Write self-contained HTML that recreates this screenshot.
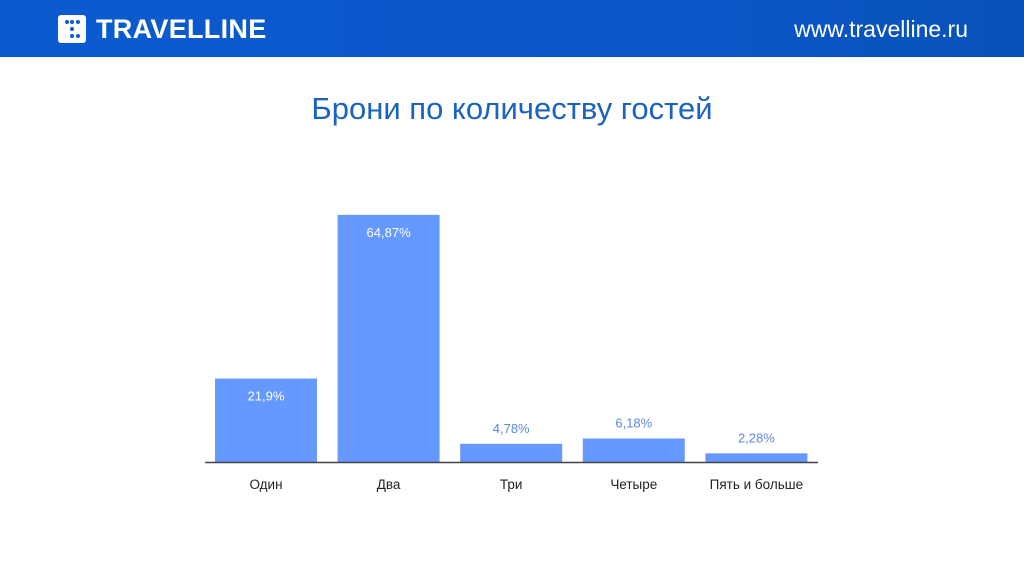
<!DOCTYPE html>
<html><head><meta charset="utf-8"><style>
body{margin:0;width:1024px;height:576px;background:#fff;overflow:hidden;font-family:"Liberation Sans",sans-serif;position:relative}
.hdr{position:absolute;left:0;top:0;width:1024px;height:57px;background:linear-gradient(90deg,#0b5bd0,#0a56c6 70%,#0752b8)}
</style></head><body>
<div class="hdr">
<div style="position:absolute;left:58px;top:15px;width:28px;height:28px;background:#fff;border-radius:3px">
<svg width="28" height="28"><g fill="#0b5bd0"><circle cx="9" cy="7" r="2"/><circle cx="14" cy="7" r="2"/><circle cx="20" cy="7" r="2"/><circle cx="14" cy="14" r="2"/><circle cx="14" cy="21" r="2"/><circle cx="20" cy="21" r="2"/></g></svg></div>
<div style="position:absolute;left:96px;top:14px;color:#fff;font-weight:bold;font-size:27px;letter-spacing:0.3px">TRAVELLINE</div>
<div style="position:absolute;right:56px;top:16px;color:#fff;font-size:23px">www.travelline.ru</div>
</div>
<div style="position:absolute;left:0;width:1024px;top:91px;text-align:center;color:#1a63c0;font-size:31px">Брони по количеству гостей</div>
<svg id="chart" width="1024" height="576" style="position:absolute;left:0;top:0"></svg>
<script>
const categories=["Один","Два","Три","Четыре","Пять и больше"];
const values=[21.9,64.87,4.78,6.18,2.28];
const valueLabels=["21,9%","64,87%","4,78%","6,18%","2,28%"];
const svg=document.getElementById('chart');
const NS='http://www.w3.org/2000/svg';
const x0=205,band=122.6,barW=102,base=462;
const y=v=>base-v*3.81;
function mk(t,a){const e=document.createElementNS(NS,t);for(const k in a)e.setAttribute(k,a[k]);svg.appendChild(e);return e;}
categories.forEach((c,i)=>{
 const bx=x0+i*band+10, top=y(values[i]);
 const r=mk('rect',{x:bx,y:top,width:barW,height:base-top,fill:'#6699ff'});
 
 
 const inside=(base-top)>40;
 const t=mk('text',{x:bx+barW/2,y:inside?top+22:top-11,'text-anchor':'middle','font-size':13,fill:inside?'#fff':'#5b87e0'});
 t.textContent=valueLabels[i];
 
 
 const l=mk('text',{x:bx+barW/2,y:489,'text-anchor':'middle','font-size':13.5,fill:'#222'});
 l.textContent=c;
 
 
});
const ax=mk('line',{x1:205,x2:818,y1:base+0.5,y2:base+0.5,stroke:'#444','stroke-width':1.5});


</script>
</body></html>
